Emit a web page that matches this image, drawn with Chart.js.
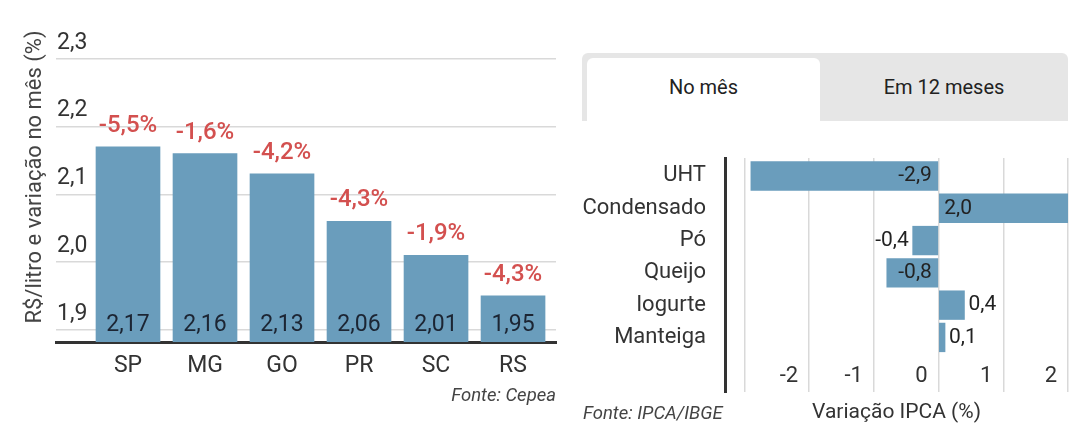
<!DOCTYPE html>
<html>
<head>
<meta charset="utf-8">
<script src="https://cdn.jsdelivr.net/npm/chart.js@4.4.1/dist/chart.umd.min.js"></script>
<style>
  html, body { margin: 0; padding: 0; background: #fff; }
  body { width: 1086px; height: 433px; position: relative; overflow: hidden; font-family: Roboto, sans-serif; }
  canvas { position: absolute; }
  #left { left: 0; top: 0; }
  #right { left: 570px; top: 150px; }
  .src { position: absolute; font-style: italic; font-size: 18.5px; color: #444; line-height: 20px; white-space: nowrap; }
  #tabs { position: absolute; left: 582px; top: 53px; width: 486px; height: 68px; background: #e6e6e6; border-radius: 6px 6px 0 0; }
  .tab { position: absolute; top: 5px; height: 63px; display: flex; align-items: center; justify-content: center; font-size: 20px; color: #222; padding-bottom: 5px; box-sizing: border-box; }
  #t1 { left: 5px; width: 233px; background: #fff; border-radius: 6px 6px 0 0; }
  #t2 { left: 238px; width: 248px; }
</style>
</head>
<body>
<canvas id="left" width="565" height="433"></canvas>
<div id="tabs"><div class="tab" id="t1">No mês</div><div class="tab" id="t2">Em 12 meses</div></div>
<canvas id="right" width="516" height="283"></canvas>
<div class="src" style="right:530px; top:385px;">Fonte: Cepea</div>
<div class="src" style="left:583px; top:403px;">Fonte: IPCA/IBGE</div>
<script>
// ---- Data ----
const states = ['SP', 'MG', 'GO', 'PR', 'SC', 'RS'];
const pricePerLiter = [2.17, 2.16, 2.13, 2.06, 2.01, 1.95];
const monthlyChange = [-5.5, -1.6, -4.2, -4.3, -1.9, -4.3];
const priceTicks = [1.9, 2.0, 2.1, 2.2, 2.3];

const products = ['UHT', 'Condensado', 'Pó', 'Queijo', 'Iogurte', 'Manteiga'];
const ipcaChange = [-2.9, 2.0, -0.4, -0.8, 0.4, 0.1];
const ipcaTicks = [-2, -1, 0, 1, 2];

// ---- Helpers ----
const BAR = '#6a9dbc';
const GRID = '#d9d9d9';
const TXT = '#333';
const comma = (v, d) => v.toFixed(d).replace('.', ',');
const noPad = s => { s.paddingTop = 0; s.paddingBottom = 0; s.paddingLeft = 0; s.paddingRight = 0; };
Chart.defaults.font.family = 'Roboto';

const leftLabels = {
  id: 'leftLabels',
  afterDatasetsDraw(chart) {
    const ctx = chart.ctx;
    const meta = chart.getDatasetMeta(0);
    const bottom = chart.scales.y.bottom;
    ctx.save();
    ctx.textAlign = 'center';
    ctx.textBaseline = 'middle';
    meta.data.forEach((bar, i) => {
      ctx.font = '23px Roboto';
      ctx.fillStyle = '#1c2533';
      ctx.fillText(comma(pricePerLiter[i], 2), bar.x, bottom - 17);
      ctx.font = '500 24px Roboto';
      ctx.fillStyle = '#d3504f';
      ctx.fillText(comma(monthlyChange[i], 1) + '%', bar.x, bar.y - 21);
    });
    ctx.restore();
  }
};

new Chart(document.getElementById('left'), {
  type: 'bar',
  data: {
    datasets: [{
      data: states.map((s, i) => ({ x: i, y: pricePerLiter[i] })),
      backgroundColor: BAR,
      barThickness: 64
    }]
  },
  options: {
    responsive: false,
    animation: false,
    layout: { padding: { left: 18, right: 9, top: 12, bottom: 45 } },
    plugins: { legend: { display: false }, tooltip: { enabled: false } },
    scales: {
      x: {
        type: 'linear',
        min: -0.935, max: 5.558,
        offset: false,
        grid: { display: false, drawTicks: false },
        border: { display: true, color: '#333', width: 3 },
        ticks: {
          stepSize: 1, includeBounds: false, autoSkip: false, maxRotation: 0,
          padding: 10, color: TXT, font: { size: 23 },
          callback: v => states[v] ?? ''
        },
        afterFit: s => { s.height = 46; noPad(s); }
      },
      y: {
        min: 1.882, max: 2.369,
        grid: { color: GRID, lineWidth: 1.5, drawTicks: false },
        border: { display: false },
        afterBuildTicks: s => { s.ticks = priceTicks.map(v => ({ value: v })); },
        ticks: {
          mirror: true, padding: 1, labelOffset: -16,
          color: TXT, font: { size: 23 },
          callback: v => comma(v, 1)
        },
        title: {
          display: true, text: 'R$/litro e variação no mês (%)',
          color: '#444', font: { size: 22 }, padding: { top: 4, bottom: 4 }
        },
        afterFit: s => { s.width = 38; noPad(s); }
      }
    }
  },
  plugins: [leftLabels]
});

const rightLabels = {
  id: 'rightLabels',
  afterDatasetsDraw(chart) {
    const ctx = chart.ctx;
    const meta = chart.getDatasetMeta(0);
    ctx.save();
    ctx.font = '21px Roboto';
    ctx.fillStyle = '#222';
    ctx.textBaseline = 'middle';
    meta.data.forEach((bar, i) => {
      const v = ipcaChange[i];
      const txt = comma(v, 1);
      const tw = ctx.measureText(txt).width;
      const len = Math.abs(bar.x - bar.base);
      const inside = len >= tw + 12;
      if (v < 0) {
        ctx.textAlign = 'right';
        ctx.fillText(txt, inside ? bar.base - 6 : bar.x - 4, bar.y);
      } else {
        ctx.textAlign = 'left';
        ctx.fillText(txt, inside ? bar.base + 5 : bar.x + 4, bar.y);
      }
    });
    ctx.restore();
  }
};

new Chart(document.getElementById('right'), {
  type: 'bar',
  data: {
    datasets: [{
      data: products.map((p, i) => ({ x: ipcaChange[i], y: i })),
      backgroundColor: BAR,
      barThickness: 28.7
    }]
  },
  options: {
    indexAxis: 'y',
    responsive: false,
    animation: false,
    layout: { padding: { left: 0, right: 18, top: 8, bottom: 0 } },
    plugins: { legend: { display: false }, tooltip: { enabled: false } },
    scales: {
      x: {
        type: 'linear',
        min: -3.3, max: 2,
        grid: { color: GRID, lineWidth: 1.5, drawTicks: false },
        border: { display: false },
        ticks: {
          stepSize: 1, includeBounds: false, autoSkip: false, maxRotation: 0,
          mirror: true, align: 'end', labelOffset: -11, padding: 2,
          color: TXT, font: { size: 22 },
          callback: v => ipcaTicks.includes(v) ? String(v) : ''
        },
        title: {
          display: true, text: 'Variação IPCA (%)',
          color: TXT, font: { size: 21 }, padding: { top: 0, bottom: 8 }
        },
        afterFit: s => { s.height = 41; noPad(s); }
      },
      y: {
        type: 'linear',
        reverse: true,
        min: -0.557, max: 6.69,
        offset: false,
        grid: { display: false, drawTicks: false },
        border: { display: true, color: '#333', width: 3 },
        ticks: {
          stepSize: 1, includeBounds: false, autoSkip: false,
          padding: 19, color: TXT, font: { size: 22 },
          callback: v => products[v] ?? ''
        },
        afterFit: s => { s.width = 155; noPad(s); }
      }
    }
  },
  plugins: [rightLabels]
});
</script>
</body>
</html>
